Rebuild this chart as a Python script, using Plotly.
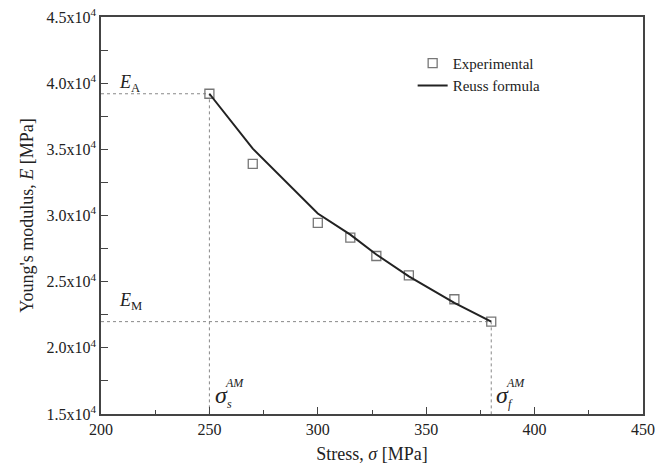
import plotly.graph_objects as go

exp_stress = [250, 270, 300, 315, 327, 342, 363, 380]
exp_modulus = [39200, 33900, 29440, 28330, 26940, 25480, 23670, 21980]
reuss_stress = [250, 270, 300, 315, 327, 342, 363, 380]
reuss_modulus = [39200, 35050, 30150, 28550, 27050, 25400, 23400, 21980]

x_ticks = [200, 250, 300, 350, 400, 450]
y_ticks = [15000, 20000, 25000, 30000, 35000, 40000, 45000]
y_ticktext = ["1.5x10<sup>4</sup>", "2.0x10<sup>4</sup>", "2.5x10<sup>4</sup>", "3.0x10<sup>4</sup>",
              "3.5x10<sup>4</sup>", "4.0x10<sup>4</sup>", "4.5x10<sup>4</sup>"]

E_A = 39200
E_M = 21980
sig_s = 250
sig_f = 380

FONT = "Liberation Serif, Times New Roman, serif"
fig = go.Figure()

ref = dict(color="#888888", width=1, dash="dot")
fig.add_trace(go.Scatter(x=[200, sig_s, sig_s], y=[E_A, E_A, 15000], mode="lines", line=ref,
                         showlegend=False, hoverinfo="skip"))
fig.add_trace(go.Scatter(x=[200, sig_f, sig_f], y=[E_M, E_M, 15000], mode="lines", line=ref,
                         showlegend=False, hoverinfo="skip"))

fig.add_trace(go.Scatter(x=exp_stress, y=exp_modulus, mode="markers", name="Experimental",
                         marker=dict(symbol="square-open", size=9, color="#777777",
                                     line=dict(width=1.3, color="#777777"))))
fig.add_trace(go.Scatter(x=reuss_stress, y=reuss_modulus, mode="lines", name="Reuss formula",
                         line=dict(color="#222222", width=2)))

ann = []
def txt(x, y, t, size, xshift=0, yshift=0):
    ann.append(dict(x=x, y=y, xref="x", yref="y", text=t, showarrow=False,
                    font=dict(family=FONT, size=size, color="#222222"),
                    xshift=xshift, yshift=yshift, xanchor="left", yanchor="middle"))

txt(207.5, 40000, "<i>E</i><sub>A</sub>", 18)
txt(207.5, 23500, "<i>E</i><sub>M</sub>", 18)
# sigma_s^AM
txt(251.5, 16400, "<i>σ</i>", 24)
txt(251.5, 16400, "<i>AM</i>", 12, xshift=10, yshift=12)
txt(251.5, 16400, "<i>s</i>", 12, xshift=12, yshift=-9)
# sigma_f^AM
txt(381.5, 16400, "<i>σ</i>", 24)
txt(381.5, 16400, "<i>AM</i>", 12, xshift=10, yshift=12)
txt(381.5, 16400, "<i>f</i>", 12, xshift=12, yshift=-9)

axis_common = dict(showline=True, linecolor="#444444", linewidth=1.5, mirror=True,
                   ticks="inside", ticklen=7, tickwidth=1.3, tickcolor="#444444",
                   showgrid=False, zeroline=False, automargin=False,
                   tickfont=dict(family=FONT, size=16, color="#222222"))

fig.update_layout(
    width=655, height=476,
    margin=dict(l=101, r=12, t=17, b=62),
    paper_bgcolor="white", plot_bgcolor="white",
    font=dict(family=FONT, color="#222222"),
    xaxis=dict(range=[200, 450], tickvals=x_ticks,
               minor=dict(ticks="inside", ticklen=4, tickwidth=1.3, tickcolor="#444444", dtick=25, tick0=200),
               title=dict(text="Stress, <i>σ</i> [MPa]", font=dict(family=FONT, size=18), standoff=10),
               **axis_common),
    yaxis=dict(range=[15000, 45000], tickvals=y_ticks, ticktext=y_ticktext,
               minor=dict(ticks="inside", ticklen=7, tickwidth=1.3, tickcolor="#444444", dtick=2500, tick0=15000),
               title=dict(text="Young's modulus, <i>E</i> [MPa]", font=dict(family=FONT, size=18), standoff=8),
               **axis_common),
    legend=dict(x=0.575, y=0.925, xanchor="left", yanchor="top", bgcolor="rgba(0,0,0,0)",
                font=dict(family=FONT, size=15, color="#222222"), tracegroupgap=0,
                itemwidth=30),
    annotations=ann,
)

fig.write_html("out.html")
